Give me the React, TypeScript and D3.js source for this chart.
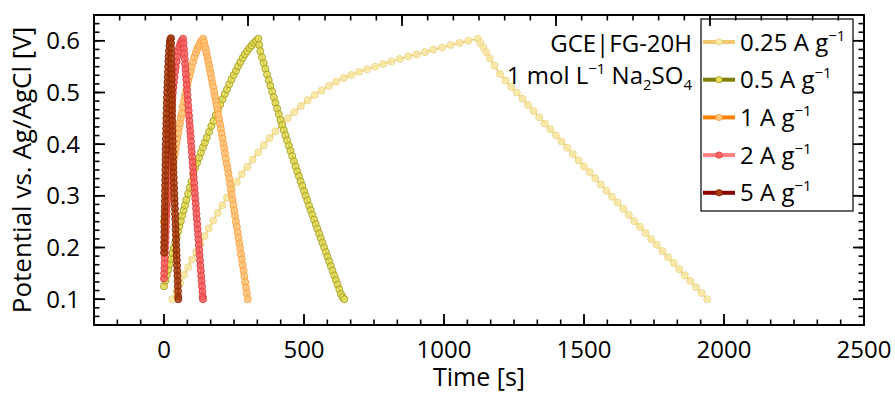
import React from "react";
import * as d3 from "d3";

// Axis ticks
const timeTicks = [0, 500, 1000, 1500, 2000, 2500];
const potentialTicks = [0.1, 0.2, 0.3, 0.4, 0.5, 0.6];

// Galvanostatic charge/discharge curves, time [s] and potential [V]
// 0.25 A g-1
const time025 = [
  30, 44, 58, 72, 86, 100, 115, 130, 145, 160, 176, 192, 208, 225, 242, 260, 278, 297, 316, 336,
  356, 377, 398, 420, 442, 465, 489, 513, 538, 563, 589, 615, 642, 669, 697, 725, 754, 783, 812, 842,
  872, 902, 932, 962, 993, 1024, 1055, 1087, 1121,
  1130, 1140, 1151, 1164, 1180, 1200, 1220, 1240, 1260, 1280, 1300, 1320, 1340, 1360, 1380, 1400,
  1420, 1440, 1460, 1480, 1500, 1520, 1540, 1560, 1580, 1600, 1620, 1640, 1660, 1680, 1700, 1720,
  1740, 1760, 1780, 1800, 1820, 1840, 1860, 1880, 1900, 1920, 1940,
];
const volt025 = [
  0.100, 0.115, 0.131, 0.147, 0.162, 0.177, 0.192, 0.207, 0.222, 0.237, 0.252, 0.267, 0.282, 0.297,
  0.312, 0.327, 0.342, 0.356, 0.370, 0.384, 0.398, 0.412, 0.425, 0.438, 0.450, 0.462, 0.474, 0.485,
  0.495, 0.504, 0.513, 0.521, 0.528, 0.534, 0.540, 0.545, 0.550, 0.555, 0.560, 0.565, 0.570, 0.574,
  0.578, 0.583, 0.587, 0.592, 0.596, 0.600, 0.604,
  0.596, 0.588, 0.578, 0.566, 0.552, 0.536, 0.523, 0.511, 0.500, 0.488, 0.476, 0.464, 0.452, 0.440,
  0.429, 0.417, 0.405, 0.393, 0.381, 0.369, 0.357, 0.346, 0.334, 0.322, 0.310, 0.298, 0.287, 0.275,
  0.263, 0.251, 0.240, 0.228, 0.216, 0.205, 0.193, 0.181, 0.170, 0.158, 0.146, 0.135, 0.123, 0.112,
  0.100,
];

// 0.5 A g-1
const time05 = [
  0, 5, 10, 15, 20, 25, 30, 35, 40, 45, 50, 55, 60, 65, 70, 75, 80, 86, 92, 98, 104, 111, 118, 125,
  132, 139, 146, 153, 161, 169, 177, 185, 193, 201, 209, 217, 225, 233, 241, 249, 257, 265, 273, 281,
  289, 297, 305, 313, 321, 329, 337,
  340, 344, 350, 356, 362, 368, 374, 380, 386, 392, 398, 404, 410, 416, 422, 428, 434, 440, 446, 452,
  458, 464, 470, 476, 482, 488, 494, 500, 506, 512, 518, 524, 530, 536, 542, 548, 554, 560, 566, 572,
  578, 584, 590, 596, 602, 608, 614, 620, 626, 632, 638, 644,
];
const volt05 = [
  0.125, 0.136, 0.147, 0.157, 0.168, 0.178, 0.189, 0.199, 0.210, 0.220, 0.231, 0.241, 0.251, 0.262,
  0.272, 0.282, 0.292, 0.304, 0.316, 0.327, 0.341, 0.354, 0.364, 0.374, 0.384, 0.394, 0.403, 0.413,
  0.424, 0.435, 0.445, 0.456, 0.467, 0.477, 0.487, 0.497, 0.506, 0.516, 0.525, 0.534, 0.542, 0.551,
  0.559, 0.567, 0.574, 0.580, 0.586, 0.591, 0.596, 0.600, 0.604,
  0.592, 0.580, 0.568, 0.557, 0.546, 0.535, 0.524, 0.513, 0.502, 0.491, 0.480, 0.469, 0.458, 0.447,
  0.437, 0.427, 0.417, 0.407, 0.397, 0.387, 0.377, 0.367, 0.357, 0.347, 0.338, 0.328, 0.319, 0.309,
  0.300, 0.291, 0.281, 0.272, 0.263, 0.254, 0.245, 0.236, 0.227, 0.218, 0.209, 0.200, 0.191, 0.182,
  0.173, 0.164, 0.155, 0.146, 0.137, 0.128, 0.119, 0.110, 0.104, 0.100,
];

// 1 A g-1
const time1 = [
  0, 3, 6, 9, 12, 15, 18, 21, 24, 27, 30, 33, 36, 39, 42, 45, 48, 51, 54, 57, 60, 63, 67, 71, 75, 79,
  83, 87, 91, 95, 99, 104, 109, 114, 119, 124, 129, 134, 140,
  143, 146, 149, 152, 155, 158, 161, 164, 167, 170, 173, 176, 179, 182, 185, 188, 191, 194, 197, 200,
  203, 206, 209, 212, 215, 218, 221, 224, 227, 230, 233, 236, 239, 242, 245, 248, 251, 254, 257, 260,
  263, 266, 269, 272, 275, 278, 281, 284, 287, 290, 293, 296, 299,
];
const volt1 = [
  0.250, 0.261, 0.271, 0.282, 0.292, 0.302, 0.312, 0.322, 0.332, 0.342, 0.352, 0.362, 0.372, 0.382,
  0.392, 0.402, 0.412, 0.422, 0.432, 0.441, 0.451, 0.460, 0.472, 0.483, 0.494, 0.504, 0.514, 0.523,
  0.532, 0.541, 0.550, 0.560, 0.569, 0.577, 0.584, 0.590, 0.595, 0.600, 0.604,
  0.597, 0.590, 0.583, 0.576, 0.568, 0.560, 0.552, 0.544, 0.536, 0.527, 0.518, 0.510, 0.501, 0.492,
  0.483, 0.474, 0.466, 0.457, 0.448, 0.439, 0.430, 0.420, 0.411, 0.401, 0.392, 0.382, 0.372, 0.362,
  0.353, 0.343, 0.333, 0.323, 0.312, 0.302, 0.292, 0.282, 0.271, 0.261, 0.250, 0.240, 0.229, 0.219,
  0.208, 0.198, 0.187, 0.177, 0.166, 0.155, 0.144, 0.133, 0.122, 0.111, 0.100,
];

// 2 A g-1
const time2 = [
  0.0, 0.7, 1.4, 2.1, 2.8, 3.5, 4.2, 4.9, 5.6, 6.3, 7.0, 7.7, 8.4, 9.1, 9.8, 10.5, 11.2, 12.0, 12.8,
  13.6, 14.4, 15.2, 16.0, 16.8, 17.7, 18.6, 19.5, 20.5, 21.5, 22.5, 23.6, 24.8, 26.0, 27.3, 28.7,
  30.2, 31.8, 33.5, 35.4, 37.4, 39.6, 42.0, 44.6, 47.5, 50.7, 54.5, 58.5, 63.0, 68.0,
  70.0, 71.2, 72.6, 74.0, 75.4, 76.8, 78.2, 79.6, 81.0, 82.4, 83.8, 85.2, 86.6, 88.0, 89.4, 90.8,
  92.2, 93.6, 95.0, 96.4, 97.8, 99.2, 100.6, 102.0, 103.4, 104.8, 106.2, 107.6, 109.0, 110.4, 111.8,
  113.2, 114.6, 116.0, 117.4, 118.8, 120.2, 121.6, 123.0, 124.4, 125.8, 127.2, 128.6, 130.0, 131.4,
  132.8, 134.2, 135.6, 137.0, 138.4, 139.2,
];
const volt2 = [
  0.140, 0.150, 0.160, 0.170, 0.180, 0.190, 0.200, 0.210, 0.220, 0.230, 0.240, 0.250, 0.260, 0.270,
  0.280, 0.290, 0.300, 0.310, 0.320, 0.330, 0.340, 0.350, 0.360, 0.370, 0.380, 0.390, 0.400, 0.410,
  0.420, 0.430, 0.440, 0.450, 0.460, 0.470, 0.480, 0.490, 0.500, 0.510, 0.520, 0.530, 0.540, 0.550,
  0.560, 0.570, 0.580, 0.588, 0.595, 0.600, 0.604,
  0.595, 0.585, 0.575, 0.565, 0.555, 0.545, 0.535, 0.525, 0.515, 0.505, 0.495, 0.485, 0.475, 0.465,
  0.455, 0.445, 0.435, 0.425, 0.415, 0.405, 0.395, 0.385, 0.375, 0.365, 0.355, 0.345, 0.335, 0.325,
  0.315, 0.305, 0.295, 0.285, 0.275, 0.265, 0.255, 0.245, 0.235, 0.225, 0.215, 0.205, 0.195, 0.185,
  0.175, 0.165, 0.155, 0.145, 0.135, 0.125, 0.115, 0.105, 0.100,
];

// 5 A g-1
const time5 = [
  0.0, 0.3, 0.6, 0.9, 1.2, 1.5, 1.8, 2.1, 2.4, 2.7, 3.0, 3.3, 3.6, 3.9, 4.2, 4.5, 4.8, 5.1, 5.4, 5.7,
  6.0, 6.4, 6.8, 7.2, 7.6, 8.0, 8.5, 9.0, 9.5, 10.0, 10.6, 11.2, 11.8, 12.5, 13.2, 14.0, 14.8, 15.7,
  16.7, 17.8, 19.2, 21.0, 23.0, 25.0,
  25.3, 25.6, 25.9, 26.2, 26.5, 26.8, 27.1, 27.4, 27.7, 28.0, 28.3, 28.6, 28.9, 29.2, 29.5, 29.8,
  30.1, 30.4, 30.8, 31.2, 31.6, 32.0, 32.4, 32.9, 33.4, 34.0, 34.7, 35.4, 36.1, 36.8, 37.5, 38.2,
  38.9, 39.6, 40.3, 41.0, 41.7, 42.4, 43.1, 43.8, 44.5, 45.2, 45.9, 46.6, 47.3, 48.0, 48.7, 49.4,
  50.1, 50.8, 51.1,
];
const volt5 = [
  0.190, 0.200, 0.210, 0.220, 0.230, 0.240, 0.250, 0.260, 0.270, 0.280, 0.290, 0.300, 0.310, 0.320,
  0.330, 0.340, 0.350, 0.360, 0.370, 0.380, 0.390, 0.400, 0.410, 0.420, 0.430, 0.440, 0.450, 0.460,
  0.470, 0.480, 0.490, 0.500, 0.510, 0.520, 0.530, 0.540, 0.550, 0.560, 0.570, 0.580, 0.590, 0.598,
  0.603, 0.605,
  0.595, 0.585, 0.575, 0.565, 0.555, 0.545, 0.535, 0.525, 0.515, 0.505, 0.495, 0.485, 0.475, 0.465,
  0.455, 0.445, 0.435, 0.425, 0.415, 0.405, 0.395, 0.385, 0.375, 0.365, 0.355, 0.345, 0.335, 0.325,
  0.315, 0.305, 0.295, 0.285, 0.275, 0.265, 0.255, 0.245, 0.235, 0.225, 0.215, 0.205, 0.195, 0.185,
  0.175, 0.165, 0.155, 0.145, 0.135, 0.125, 0.115, 0.105, 0.100,
];

const currentLabels = ["0.25", "0.5", "1", "2", "5"];
const lineColors = ["#f0c86e", "#85850f", "#ff8a10", "#e83838", "#8b0a00"];
const legendLineColors = ["#f0c870", "#808000", "#ff8000", "#ff8080", "#8b0000"];
const markerFills = ["#f8e9a4", "#e5dc55", "#ffc77e", "#f86464", "#a8400f"];
const markerStrokes = ["#ecd484", "#a29c22", "#ff9c38", "#e23a3a", "#8a2400"];

const curves = [
  { t: time025, v: volt025 },
  { t: time05, v: volt05 },
  { t: time1, v: volt1 },
  { t: time2, v: volt2 },
  { t: time5, v: volt5 },
];

const FONT = "'Open Sans', 'Noto Sans', sans-serif";

export default function App() {
  const left = 94, right = 864, top = 15, bottom = 325;
  const x = d3.scaleLinear().domain([-250, 2500]).range([left, right]);
  const xTop = d3.scaleLinear().domain([0, 2500]).range([left, right]);
  const y = d3.scaleLinear().domain([0.05, 0.65]).range([bottom, top]);

  const bottomMinor = d3.range(-3, 34).map((k) => (k * 500) / 6);
  const topMinor = d3.range(0, 31).map((k) => (k * 500) / 6);
  const yMinor = d3.range(0, 37).map((k) => 0.05 + (k * 0.1) / 6);
  const majLen = 11, minLen = 5.5;

  const line = d3
    .line<[number, number]>()
    .x((d) => x(d[0]))
    .y((d) => y(d[1]));

  const legendX = 701, legendY = 19, legendW = 152, legendH = 192;
  const rowY = (i: number) => 42 + i * 37.7;

  return (
    <svg
      width={895}
      height={394}
      style={{ position: "absolute", left: 0, top: 0, background: "#fff" }}
      fontFamily={FONT}
    >
      <rect x={0} y={0} width={895} height={394} fill="#fff" />

      {/* curves */}
      <defs>
        <clipPath id="plotArea">
          <rect x={left} y={top} width={right - left} height={bottom - top} />
        </clipPath>
      </defs>
      <g clipPath="url(#plotArea)">
        {curves.map((c, i) => {
          const pts = c.t.map((t, j) => [t, c.v[j]] as [number, number]);
          return (
            <g key={i}>
              <path d={line(pts) || ""} fill="none" stroke={lineColors[i]} strokeWidth={1.6} />
              {pts.map((p, j) => (
                <circle
                  key={j}
                  cx={x(p[0])}
                  cy={y(p[1])}
                  r={3.5}
                  fill={markerFills[i]}
                  fillOpacity={0.85}
                  stroke={markerStrokes[i]}
                  strokeWidth={0.9}
                />
              ))}
            </g>
          );
        })}
      </g>

      {/* frame */}
      <rect x={left} y={top} width={right - left} height={bottom - top} fill="none" stroke="#000" strokeWidth={2} />

      {/* bottom ticks */}
      {bottomMinor.filter((v) => x(v) > left + 1 && x(v) < right - 1).map((v, i) => (
        <line key={"bm" + i} x1={x(v)} x2={x(v)} y1={bottom} y2={bottom - minLen} stroke="#000" strokeWidth={1.6} />
      ))}
      {timeTicks.map((v) => (
        <line key={"bM" + v} x1={x(v)} x2={x(v)} y1={bottom} y2={bottom - majLen} stroke="#000" strokeWidth={1.8} />
      ))}
      {timeTicks.map((v) => (
        <text key={"bl" + v} x={x(v)} y={358} textAnchor="middle" fontSize={24} fill="#000">
          {v}
        </text>
      ))}

      {/* top ticks */}
      {topMinor.filter((v) => xTop(v) > left + 1 && xTop(v) < right - 1).map((v, i) => (
        <line key={"tm" + i} x1={xTop(v)} x2={xTop(v)} y1={top} y2={top + minLen} stroke="#000" strokeWidth={1.6} />
      ))}
      {timeTicks.map((v) => (
        <line key={"tM" + v} x1={xTop(v)} x2={xTop(v)} y1={top} y2={top + majLen} stroke="#000" strokeWidth={1.8} />
      ))}

      {/* left & right ticks */}
      {yMinor.filter((v) => y(v) > top + 1 && y(v) < bottom - 1).map((v, i) => (
        <g key={"ym" + i}>
          <line x1={left} x2={left + minLen} y1={y(v)} y2={y(v)} stroke="#000" strokeWidth={1.6} />
          <line x1={right} x2={right - minLen} y1={y(v)} y2={y(v)} stroke="#000" strokeWidth={1.6} />
        </g>
      ))}
      {potentialTicks.map((v) => (
        <g key={"yM" + v}>
          <line x1={left} x2={left + majLen} y1={y(v)} y2={y(v)} stroke="#000" strokeWidth={1.8} />
          <line x1={right} x2={right - majLen} y1={y(v)} y2={y(v)} stroke="#000" strokeWidth={1.8} />
          <text x={80} y={y(v) + 8.5} textAnchor="end" fontSize={24} fill="#000">
            {v.toFixed(1)}
          </text>
        </g>
      ))}

      {/* axis titles */}
      <text x={(left + right) / 2} y={386} textAnchor="middle" fontSize={25} fill="#000">
        Time [s]
      </text>
      <text
        transform={`translate(31, ${(top + bottom) / 2}) rotate(-90)`}
        textAnchor="middle"
        fontSize={26}
        fill="#000"
      >
        Potential vs. Ag/AgCl [V]
      </text>

      {/* annotation */}
      <text x={692} y={52} textAnchor="end" fontSize={24} fill="#000">
        GCE|FG-20H
      </text>
      <text x={692} y={84} textAnchor="end" fontSize={24} fill="#000">
        1 mol L
        <tspan dy={-10} fontSize={15}>−1</tspan>
        <tspan dy={10}> Na</tspan>
        <tspan dy={6} fontSize={15}>2</tspan>
        <tspan dy={-6}>SO</tspan>
        <tspan dy={6} fontSize={15}>4</tspan>
      </text>

      {/* legend */}
      <rect x={legendX} y={legendY} width={legendW} height={legendH} fill="none" stroke="#000" strokeWidth={1.2} />
      {currentLabels.map((lab, i) => (
        <g key={"lg" + i}>
          <line x1={703} x2={735} y1={rowY(i)} y2={rowY(i)} stroke={legendLineColors[i]} strokeWidth={4} />
          <circle cx={719} cy={rowY(i)} r={3.2} fill={markerFills[i]} stroke={markerStrokes[i]} strokeWidth={0.8} />
          <text x={740} y={rowY(i) + 8.5} fontSize={24} fill="#000">
            {lab} A g
            <tspan dy={-10} fontSize={15}>−1</tspan>
          </text>
        </g>
      ))}
    </svg>
  );
}
